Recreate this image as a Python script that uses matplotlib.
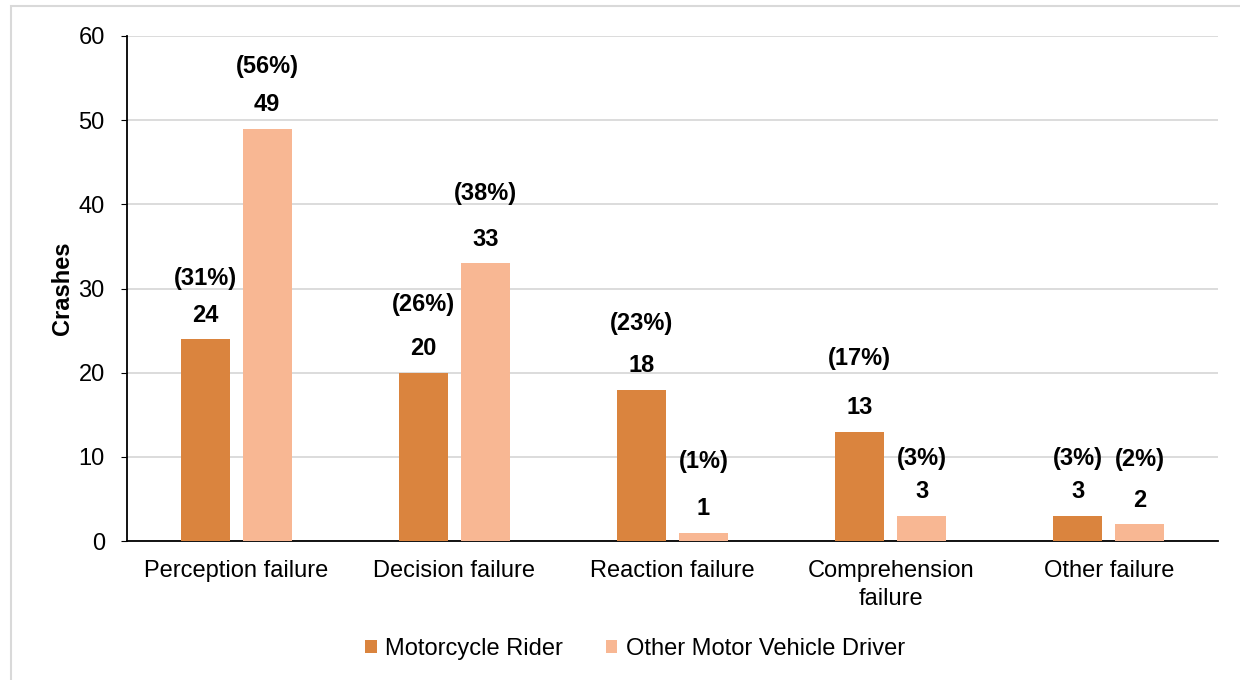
import matplotlib
matplotlib.use("Agg")
import matplotlib.pyplot as plt
from matplotlib.patches import Rectangle

plt.rcParams['font.family'] = ['Liberation Sans', 'DejaVu Sans']

categories = ["Perception failure", "Decision failure", "Reaction failure",
              "Comprehension\nfailure", "Other failure"]
series_names = ["Motorcycle Rider", "Other Motor Vehicle Driver"]
rider = [24, 20, 18, 13, 3]
driver = [49, 33, 1, 3, 2]
rider_pct = ["(31%)", "(26%)", "(23%)", "(17%)", "(3%)"]
driver_pct = ["(56%)", "(38%)", "(1%)", "(3%)", "(2%)"]
yticks = [0, 10, 20, 30, 40, 50, 60]

# layout: pixel offsets of percent labels above bar tops
rider_pct_off = [60, 68, 66, 73, 57]
driver_pct_off = [62, 70, 71, 57, 65]

c_rider = "#DA843E"
c_driver = "#F8B793"
FS = 17

fig = plt.figure(figsize=(12.4, 6.8), dpi=100)
fig.patches.append(Rectangle((11/1240, -0.1), 1.2, (680-6)/680 + 0.1,
                             transform=fig.transFigure, fill=False,
                             edgecolor="#D9D9D9", linewidth=1.5))
ax = fig.add_axes([127/1240, (680-541)/680, (1218-127)/1240, (541-36)/680])

x = list(range(len(categories)))
w = 0.225
off = 0.142
b1 = ax.bar([i - off for i in x], rider, width=w, color=c_rider, label=series_names[0], zorder=3)
b2 = ax.bar([i + off for i in x], driver, width=w, color=c_driver, label=series_names[1], zorder=3)

px2pt = 72 / 100
for bars, vals, pcts, offs in [(b1, rider, rider_pct, rider_pct_off),
                               (b2, driver, driver_pct, driver_pct_off)]:
    for bar, v, p, o in zip(bars, vals, pcts, offs):
        cx = bar.get_x() + bar.get_width() / 2
        ax.annotate(str(v), (cx, v), xytext=(0, 24 * px2pt), textcoords="offset points",
                    ha="center", va="center", fontsize=FS, fontweight="bold", color="#000000")
        ax.annotate(p, (cx, v), xytext=(0, o * px2pt), textcoords="offset points",
                    ha="center", va="center", fontsize=FS, fontweight="bold", color="#000000")

ax.set_xlim(-0.5, len(categories) - 0.5)
ax.set_ylim(0, 60)
ax.set_yticks(yticks)
ax.set_yticklabels([str(t) for t in yticks], fontsize=FS)
ax.set_xticks(x)
ax.set_xticklabels(categories, fontsize=FS, linespacing=1.35)
ax.tick_params(axis="x", length=0, pad=14)
ax.tick_params(axis="y", length=4, pad=12, direction="out", color="#000000")
ax.yaxis.grid(True, color="#D9D9D9", linewidth=1.3, zorder=0)
ax.set_axisbelow(True)
for s in ["top", "right"]:
    ax.spines[s].set_visible(False)
ax.spines["left"].set_color("#000000")
ax.spines["bottom"].set_color("#000000")
ax.spines["left"].set_linewidth(1.3)
ax.spines["bottom"].set_linewidth(1.3)
ax.set_ylabel("Crashes", fontsize=FS, fontweight="bold", labelpad=3)

fig.legend(handles=[b1, b2], labels=series_names, loc="center",
           bbox_to_anchor=(635/1240, (680-649)/680), ncol=2, frameon=False,
           fontsize=FS, handlelength=0.5, handleheight=0.5, handletextpad=0.35,
           columnspacing=1.8)

fig.savefig("out.png", dpi=100)
